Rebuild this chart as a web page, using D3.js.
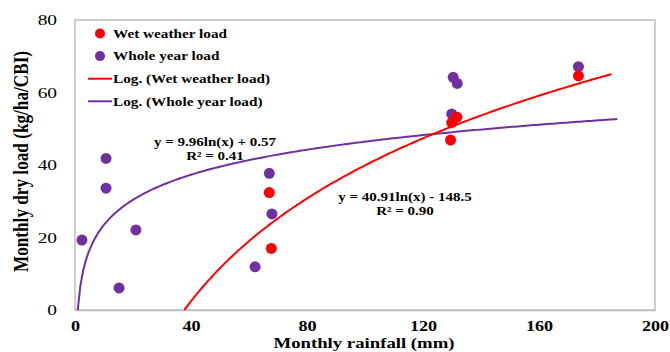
<!DOCTYPE html>
<html>
<head>
<meta charset="utf-8">
<script src="https://cdn.jsdelivr.net/npm/d3@7"></script>
<style>
  body { margin: 0; background: #fff; }
  text { font-family: "Liberation Serif", "Times New Roman", serif; }
</style>
</head>
<body>
<svg id="chart" width="670" height="352"></svg>
<script>
// rainfall (mm) vs load (kg/ha/CBI)
const wetRain = [67.0, 67.7, 129.9, 131.7, 129.5, 173.6];
const wetLoad = [32.4, 17.0, 51.7, 53.2, 46.9, 64.6];

const yearRain = [2.4, 10.7, 10.7, 21.0, 15.2, 62.1, 67.0, 67.9, 130.4, 131.8, 129.9, 173.6];
const yearLoad = [19.3, 41.8, 33.6, 22.1, 6.1, 11.9, 37.7, 26.5, 64.2, 62.5, 54.1, 67.1];

// log fits: y = a ln(x) + b
const wetFit = {a: 40.91, b: -148.5, from: 37.7, to: 185};
const yearFit = {a: 9.96, b: 0.57, from: 0.94, to: 187};

const xTicks = [0, 40, 80, 120, 160, 200];
const yTicks = [0, 20, 40, 60, 80];

const red = '#ff0000';
const purple = '#7030a0';
const sx = 1.25;  // the type in the original is drawn a bit wide

const svg = d3.select('#chart');
const margin = {left: 75, top: 20, right: 15, bottom: 42};
const W = 670, H = 352;

const x = d3.scaleLinear().domain([0, 200]).range([margin.left, W - margin.right]);
const y = d3.scaleLinear().domain([0, 80]).range([H - margin.bottom, margin.top]);

// plot frame
svg.append('rect')
  .attr('x', x(0)).attr('y', y(80))
  .attr('width', x(200) - x(0)).attr('height', y(0) - y(80))
  .attr('fill', 'none').attr('stroke', '#bfbfbf').attr('stroke-width', 1.5);

// axes (labels only, no ticks)
const gx = svg.append('g')
  .attr('transform', `translate(0,${y(0)})`)
  .call(d3.axisBottom(x).tickValues(xTicks).tickSize(0).tickPadding(11).tickFormat(d3.format('d')));
gx.select('.domain').attr('stroke', '#bfbfbf').attr('stroke-width', 1.5);
gx.selectAll('text')
  .attr('transform', `scale(${sx},1)`)
  .attr('font-family', '"Liberation Serif", serif')
  .attr('font-size', 14.5).attr('font-weight', 'bold').attr('fill', '#000');

const gy = svg.append('g')
  .attr('transform', `translate(${x(0)},0)`)
  .call(d3.axisLeft(y).tickValues(yTicks).tickSize(0));
gy.select('.domain').remove();
gy.selectAll('text')
  .attr('x', -18 / sx)
  .attr('transform', `scale(${sx},1)`)
  .attr('font-family', '"Liberation Serif", serif')
  .attr('font-size', 15.5).attr('fill', '#000');

svg.append('text')
  .attr('transform', `translate(364,348) scale(${sx},1)`)
  .attr('text-anchor', 'middle')
  .attr('font-size', 15).attr('font-weight', 'bold')
  .text('Monthly rainfall (mm)');

svg.append('text')
  .attr('transform', 'translate(28,161.5) rotate(-90) scale(1,1.2)')
  .attr('text-anchor', 'middle')
  .attr('font-size', 17.2).attr('font-weight', 'bold')
  .text('Monthly dry load (kg/ha/CBI)');

// trend lines
function fitPoints(f) {
  const pts = [];
  const n = 200;
  for (let i = 0; i <= n; i++) {
    const xv = f.from + (f.to - f.from) * i / n;
    pts.push([xv, f.a * Math.log(xv) + f.b]);
  }
  return pts;
}
const line = d3.line().x(d => x(d[0])).y(d => y(d[1]));

svg.append('path').datum(fitPoints(yearFit))
  .attr('d', line).attr('fill', 'none').attr('stroke', purple).attr('stroke-width', 2);
svg.append('path').datum(fitPoints(wetFit))
  .attr('d', line).attr('fill', 'none').attr('stroke', red).attr('stroke-width', 2);

// points
svg.append('g').selectAll('circle')
  .data(yearRain.map((r, i) => [r, yearLoad[i]]))
  .enter().append('circle')
  .attr('cx', d => x(d[0])).attr('cy', d => y(d[1])).attr('r', 5.5)
  .attr('fill', purple);

svg.append('g').selectAll('circle')
  .data(wetRain.map((r, i) => [r, wetLoad[i]]))
  .enter().append('circle')
  .attr('cx', d => x(d[0])).attr('cy', d => y(d[1])).attr('r', 5.5)
  .attr('fill', red);

// equations
function eqn(cx, cy, lines) {
  svg.append('g').selectAll('text')
    .data(lines).enter().append('text')
    .attr('transform', (d, i) => `translate(${cx},${cy + i * 14}) scale(${sx},1)`)
    .attr('text-anchor', 'middle')
    .attr('font-size', 12).attr('font-weight', 'bold')
    .text(d => d);
}
eqn(215, 146, ['y = 9.96ln(x) + 0.57', 'R² = 0.41']);
eqn(405, 200.5, ['y = 40.91ln(x) - 148.5', 'R² = 0.90']);

// legend
const legend = [
  {label: 'Wet weather load', color: red, kind: 'dot'},
  {label: 'Whole year load', color: purple, kind: 'dot'},
  {label: 'Log. (Wet weather load)', color: red, kind: 'line'},
  {label: 'Log. (Whole year load)', color: purple, kind: 'line'}
];
const lg = svg.append('g').selectAll('g')
  .data(legend).enter().append('g')
  .attr('transform', (d, i) => `translate(0,${33.5 + i * 22.6})`);
lg.filter(d => d.kind == 'dot').append('circle')
  .attr('cx', 100).attr('cy', 0).attr('r', 5).attr('fill', d => d.color);
lg.filter(d => d.kind == 'line').append('line')
  .attr('x1', 88).attr('x2', 112).attr('y1', 0).attr('y2', 0)
  .attr('stroke', d => d.color).attr('stroke-width', 2);
lg.append('text')
  .attr('transform', `translate(113,0) scale(${sx},1)`)
  .attr('dy', '0.35em')
  .attr('font-size', 12.2).attr('font-weight', 'bold')
  .text(d => d.label);
</script>
</body>
</html>
